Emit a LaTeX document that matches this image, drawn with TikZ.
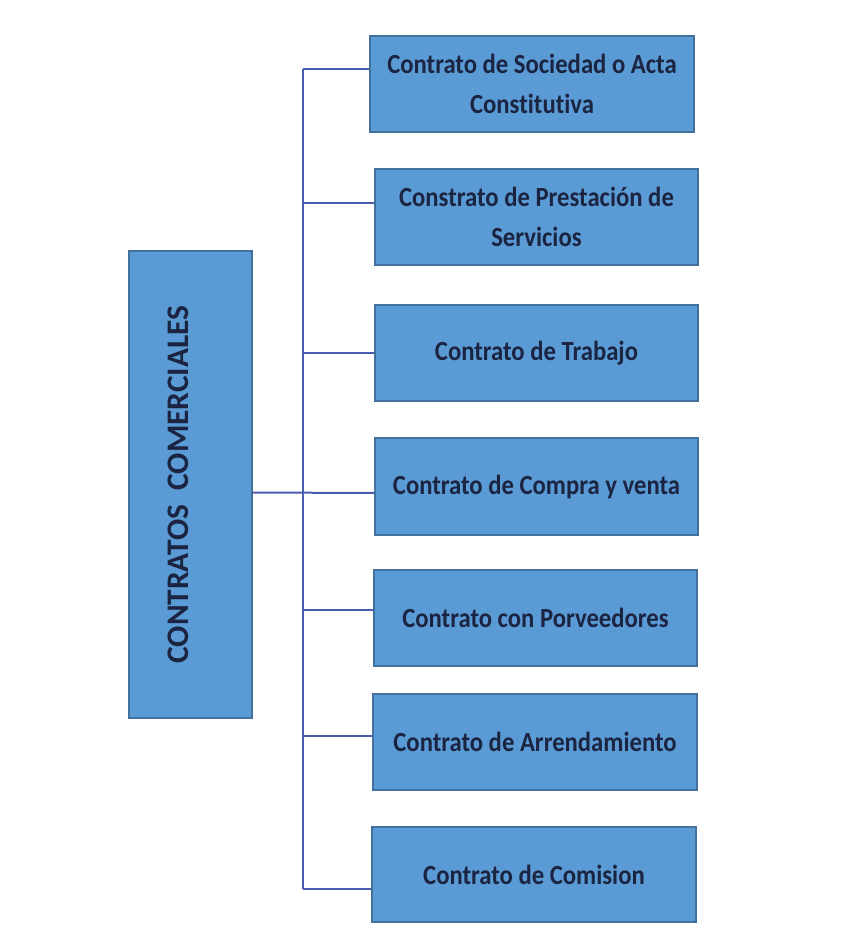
\documentclass[tikz,border=0pt]{standalone}
\usepackage{fontspec}
\setmainfont[Ligatures=NoCommon]{Carlito}
\definecolor{boxfill}{HTML}{5B9BD5}
\definecolor{boxline}{HTML}{41719C}
\definecolor{txt}{HTML}{1B2440}
\definecolor{conn}{HTML}{4A5CB0}
\newcommand{\tallt}[1]{\scalebox{1}[1.12]{#1}}
\begin{document}
\begin{tikzpicture}[x=1pt,y=-1pt,
  cbox/.style={draw=boxline,line width=1.2pt,fill=boxfill,inner sep=0pt,
    text=txt,font=\bfseries\fontsize{24.7}{40}\selectfont,align=center},
  link/.style={draw=conn,line width=2pt}]
\useasboundingbox[fill=white] (0,0) rectangle (847,931);
\node[cbox,minimum width=123pt,minimum height=467pt] (main) at (190.5,484.5)
  {\rotatebox{90}{\raisebox{12pt}[\height][\depth]{\fontsize{31.4}{36}\selectfont CONTRATOS\ \ COMERCIALES}}};
\node[cbox,minimum width=324pt,minimum height=96pt] (b1) at (532,84) {\tallt{Contrato de Sociedad o Acta}\\\tallt{Constitutiva}};
\node[cbox,minimum width=323pt,minimum height=96pt] (b2) at (536.5,217) {\tallt{Constrato de Prestación de}\\\tallt{Servicios}};
\node[cbox,minimum width=323pt,minimum height=96pt] (b3) at (536.5,353) {\tallt{Contrato de Trabajo}};
\node[cbox,minimum width=323pt,minimum height=97pt] (b4) at (536.5,486.5) {\tallt{Contrato de Compra y venta}};
\node[cbox,minimum width=323pt,minimum height=96pt] (b5) at (535.5,618) {\tallt{Contrato con Porveedores}};
\node[cbox,minimum width=324pt,minimum height=96pt] (b6) at (535,742) {\tallt{Contrato de Arrendamiento}};
\node[cbox,minimum width=324pt,minimum height=95pt] (b7) at (534,874.5) {\tallt{Contrato de Comision}};
\coordinate (c1) at ([yshift=15pt]b1.west);
\coordinate (c2) at ([yshift=14pt]b2.west);
\coordinate (c3) at (b3.west);
\coordinate (c4) at ([yshift=-6.5pt]b4.west);
\coordinate (c5) at ([yshift=8pt]b5.west);
\coordinate (c6) at ([yshift=6pt]b6.west);
\coordinate (c7) at ([yshift=-14.5pt]b7.west);
\coordinate (m) at ([yshift=-8pt]main.east);
\coordinate (top) at (303,69);
\coordinate (bot) at (303,889);
\draw[link] (top) -- (bot);
\draw[link] (top) -- (c1);
\draw[link] (top |- c2) -- (c2);
\draw[link] (top |- c3) -- (c3);
\draw[link] (m) -- (c4);
\draw[link] (top |- c5) -- (c5);
\draw[link] (top |- c6) -- (c6);
\draw[link] (bot) -- (c7);
\end{tikzpicture}
\end{document}
